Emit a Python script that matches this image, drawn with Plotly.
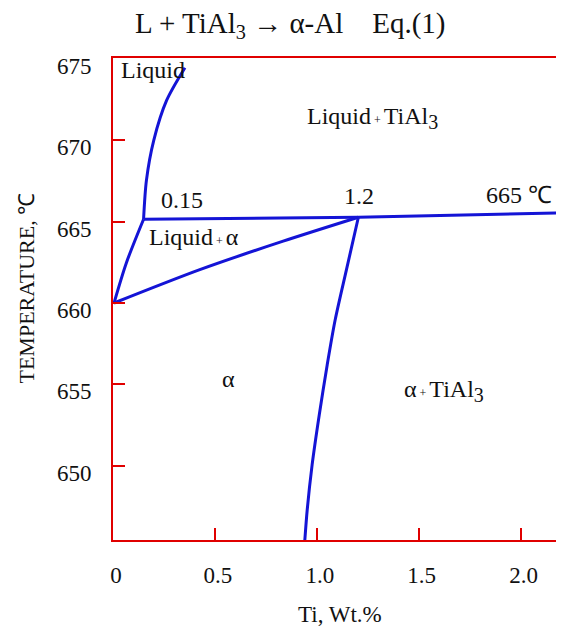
import plotly.graph_objects as go

# ---- data ----
liquidus_low_x = [0.005, 0.065, 0.15]
liquidus_low_T = [660.0, 662.45, 665.15]
liquidus_up_x = [0.15, 0.164, 0.200, 0.263, 0.353]
liquidus_up_T = [665.15, 667.54, 670.0, 672.45, 674.46]

solidus_x = [0.005, 0.426, 0.835, 1.204]
solidus_T = [660.0, 662.05, 663.8, 665.27]

peritectic_x = [0.15, 1.204, 2.22]
peritectic_T = [665.15, 665.27, 665.54]

solvus_x = [1.204, 1.145, 1.090, 1.051, 1.012, 0.977, 0.953, 0.940]
solvus_T = [665.27, 662.02, 658.95, 656.19, 653.12, 650.05, 647.29, 645.2]

x_ticks = [0, 0.5, 1.0, 1.5, 2.0]
x_ticklabels = ["0", "0.5", "1.0", "1.5", "2.0"]
y_ticks = [650, 655, 660, 665, 670, 675]
y_ticklabels = ["650", "655", "660", "665", "670", "675"]

PLUS = '<span style="font-size:12px"> + </span>'
SUB3 = '<sub><span style="font-size:20px">3</span></sub>'
region_labels = [
    ("Liquid", 0.028, 674.3, "left"),
    ("Liquid" + PLUS + "TiAl" + SUB3, 1.272, 671.4, "center"),
    ("0.15", 0.338, 666.35, "center"),
    ("1.2", 1.208, 666.6, "center"),
    ("665 \u2103", 1.99, 666.65, "center"),
    ("Liquid" + PLUS + "\u03b1", 0.397, 664.05, "center"),
    ("\u03b1", 0.569, 655.3, "center"),
    ("\u03b1" + PLUS + "TiAl" + SUB3, 1.622, 654.6, "center"),
]

BLUE = "#1414D6"
RED = "#E00000"
INK = "#111111"
FONT = "Liberation Serif"

# the page adds an 8px body margin; the figure is sized to fit the window with it
W, H = 556, 622

fig = go.Figure()
for xs, ts in [(liquidus_low_x, liquidus_low_T), (liquidus_up_x, liquidus_up_T),
               (solidus_x, solidus_T), (solvus_x, solvus_T)]:
    fig.add_trace(go.Scatter(x=xs, y=ts, mode="lines",
                             line=dict(color=BLUE, width=3, shape="spline", smoothing=0.8),
                             showlegend=False, hoverinfo="skip"))
fig.add_trace(go.Scatter(x=peritectic_x, y=peritectic_T, mode="lines",
                         line=dict(color=BLUE, width=3),
                         showlegend=False, hoverinfo="skip"))

for text, x, y, anchor in region_labels:
    fig.add_annotation(x=x, y=y, xref="x", yref="y", text=text, showarrow=False,
                       xanchor=anchor, yanchor="middle",
                       font=dict(family=FONT, size=24, color=INK))

# axis titles
fig.add_annotation(x=0.503, y=0, xref="paper", yref="paper", yshift=-74,
                   text="Ti, Wt.%", showarrow=False, xanchor="center", yanchor="middle",
                   font=dict(family=FONT, size=23, color=INK))
fig.add_annotation(x=-0.1915, y=0.523, xref="paper", yref="paper", textangle=-90,
                   text="TEMPERATURE, \u2103", showarrow=False,
                   xanchor="center", yanchor="middle",
                   font=dict(family=FONT, size=22, color=INK))

fig.update_layout(
    width=W, height=H,
    margin=dict(l=105.3, r=0, t=49.5, b=89.5),
    plot_bgcolor="white", paper_bgcolor="white",
    title=dict(text="L + TiAl<sub>3</sub> \u2192 \u03b1-Al    Eq.(1)",
               x=127 / W, xref="container", xanchor="left",
               y=1 - 14.5 / H, yref="container", yanchor="middle",
               font=dict(family=FONT, size=29, color=INK)),
    font=dict(family=FONT, color=INK),
)
fig.update_xaxes(range=[0, 2.213], tickvals=x_ticks, ticktext=x_ticklabels,
                 automargin=False, showgrid=False, zeroline=False,
                 showline=True, linecolor=RED, linewidth=2, mirror=True,
                 ticks="inside", ticklen=12, tickwidth=2, tickcolor=RED,
                 ticklabelstandoff=13, ticklabelshift=3,
                 tickfont=dict(family=FONT, size=23, color=INK))
fig.update_yaxes(range=[645.43, 675.06], tickvals=y_ticks, ticktext=y_ticklabels,
                 automargin=False, showgrid=False, zeroline=False,
                 showline=True, linecolor=RED, linewidth=2,
                 ticks="inside", ticklen=12, tickwidth=2, tickcolor=RED,
                 ticklabelstandoff=15, ticklabelshift=7,
                 tickfont=dict(family=FONT, size=23, color=INK))

fig.write_html("out.html")
